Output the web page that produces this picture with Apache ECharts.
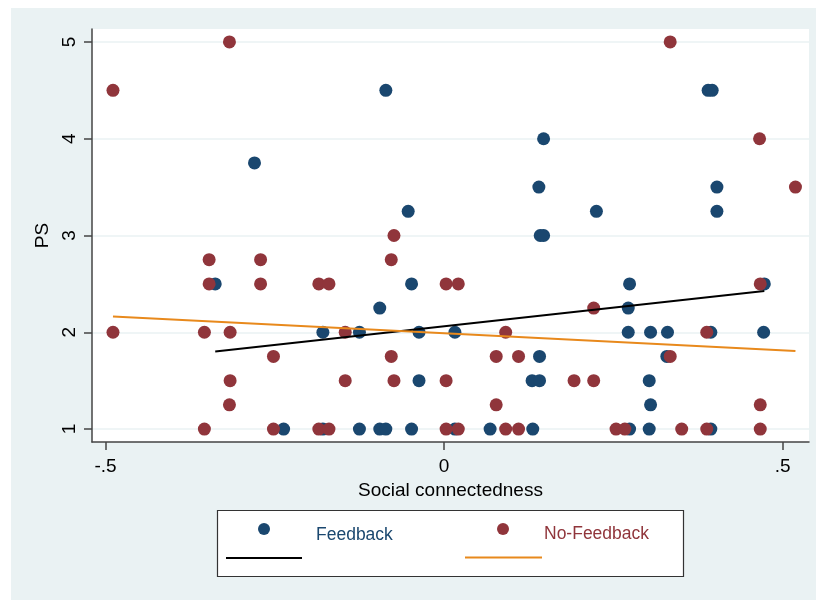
<!DOCTYPE html>
<html>
<head>
<meta charset="utf-8">
<script src="https://cdn.jsdelivr.net/npm/echarts@6/dist/echarts.min.js"></script>
<style>
  html, body { margin: 0; padding: 0; background: #fff; }
  #chart { width: 816px; height: 600px; }
</style>
</head>
<body>
<div id="chart"></div>
<script>
// Feedback group (social connectedness, PS)
const fbX = [-0.280, -0.086, 0.390, 0.396, 0.147, 0.140, 0.403, -0.053, 0.225, 0.403,
  0.142, 0.147, -0.338, -0.048, 0.274, 0.473, -0.095, 0.272,
  -0.179, -0.125, -0.037, 0.016, 0.272, 0.305, 0.330, 0.394, 0.472,
  0.141, 0.329, -0.037, 0.130, 0.141, 0.303, 0.305,
  -0.237, -0.179, -0.125, -0.095, -0.086, -0.048, 0.016, 0.068, 0.131, 0.274, 0.303, 0.394];
const fbY = [3.75, 4.5, 4.5, 4.5, 4, 3.5, 3.5, 3.25, 3.25, 3.25,
  3, 3, 2.5, 2.5, 2.5, 2.5, 2.25, 2.25,
  2, 2, 2, 2, 2, 2, 2, 2, 2,
  1.75, 1.75, 1.5, 1.5, 1.5, 1.5, 1.25,
  1, 1, 1, 1, 1, 1, 1, 1, 1, 1, 1, 1];

// No-Feedback group
const nfX = [-0.317, 0.334, -0.489, 0.466, 0.519, -0.074,
  -0.347, -0.271, -0.078,
  -0.347, -0.271, -0.185, -0.170, 0.003, 0.021, 0.467,
  0.221,
  -0.489, -0.354, -0.316, -0.146, 0.091, 0.388,
  -0.252, -0.078, 0.077, 0.110, 0.334,
  -0.316, -0.146, -0.074, 0.003, 0.192, 0.221,
  -0.317, 0.077, 0.467,
  -0.354, -0.252, -0.185, -0.170, 0.003, 0.021, 0.091, 0.110, 0.254, 0.267, 0.351, 0.388, 0.467];
const nfY = [5, 5, 4.5, 4, 3.5, 3,
  2.75, 2.75, 2.75,
  2.5, 2.5, 2.5, 2.5, 2.5, 2.5, 2.5,
  2.25,
  2, 2, 2, 2, 2, 2,
  1.75, 1.75, 1.75, 1.75, 1.75,
  1.5, 1.5, 1.5, 1.5, 1.5, 1.5,
  1.25, 1.25, 1.25,
  1, 1, 1, 1, 1, 1, 1, 1, 1, 1, 1, 1, 1];

const xTicks = [-0.5, 0, 0.5];
const yTicks = [1, 2, 3, 4, 5];

const navy = '#1a476f';
const maroon = '#90353b';
const orange = '#e8891c';

function pairs(xs, ys) {
  return xs.map((x, i) => [x, ys[i]]);
}

// linear fit over the group's x range
function lfit(xs, ys) {
  const n = xs.length;
  const mx = xs.reduce((a, b) => a + b, 0) / n;
  const my = ys.reduce((a, b) => a + b, 0) / n;
  let sxy = 0, sxx = 0;
  for (let i = 0; i < n; i++) {
    sxy += (xs[i] - mx) * (ys[i] - my);
    sxx += (xs[i] - mx) * (xs[i] - mx);
  }
  const b = sxy / sxx, a = my - b * mx;
  const lo = Math.min(...xs), hi = Math.max(...xs);
  return [[lo, a + b * lo], [hi, a + b * hi]];
}

function tickText(v) {
  if (v === 0) return '0';
  return String(v).replace('0.', '.');
}

const chart = echarts.init(document.getElementById('chart'));
const font = 'Arial, "Liberation Sans", sans-serif';

chart.setOption({
  animation: false,
  backgroundColor: '#fff',
  textStyle: { fontFamily: font },
  grid: { left: 92, right: 7, top: 29, bottom: 158, show: true, backgroundColor: '#fff', borderWidth: 0 },
  xAxis: {
    type: 'value',
    min: -0.52,
    max: 0.539,
    name: 'Social connectedness',
    nameLocation: 'middle',
    nameGap: 37,
    nameTextStyle: { fontSize: 19, color: '#000', fontFamily: font },
    axisLine: { onZero: false, lineStyle: { color: '#444', width: 1.5 } },
    axisTick: { show: true, length: 8, customValues: xTicks, lineStyle: { color: '#444', width: 1.5 } },
    axisLabel: { customValues: xTicks, formatter: tickText, fontSize: 19, color: '#000', margin: 15 },
    splitLine: { show: false }
  },
  yAxis: {
    type: 'value',
    min: 0.866,
    max: 5.134,
    name: 'PS',
    nameLocation: 'middle',
    nameGap: 34,
    nameRotate: 90,
    nameTextStyle: { fontSize: 19, color: '#000', fontFamily: font },
    axisLine: { show: true, onZero: false, lineStyle: { color: '#444', width: 1.5 } },
    axisTick: { show: true, length: 8, customValues: yTicks, lineStyle: { color: '#444', width: 1.5 } },
    axisLabel: { customValues: yTicks, rotate: 90, fontSize: 19, color: '#000', margin: 13 },
    splitLine: { show: true, lineStyle: { color: '#eaf2f3', width: 1.5 } }
  },
  graphic: [
    { type: 'rect', z: -10, silent: true, shape: { x: 11, y: 8, width: 805, height: 592 }, style: { fill: '#eaf2f3' } },
    { type: 'rect', shape: { x: 217.5, y: 510.5, width: 466, height: 66 }, style: { fill: '#fff', stroke: '#333', lineWidth: 1.2 } },
    { type: 'circle', shape: { cx: 264, cy: 529, r: 6 }, style: { fill: navy } },
    { type: 'text', left: 316, top: 526, style: { text: 'Feedback', fill: navy, font: '17.5px ' + font } },
    { type: 'line', shape: { x1: 226, y1: 558, x2: 302, y2: 558 }, style: { stroke: '#000', lineWidth: 2 } },
    { type: 'circle', shape: { cx: 503, cy: 529, r: 6 }, style: { fill: maroon } },
    { type: 'text', left: 544, top: 525, style: { text: 'No-Feedback', fill: maroon, font: '17.5px ' + font } },
    { type: 'line', shape: { x1: 465, y1: 557.5, x2: 542, y2: 557.5 }, style: { stroke: orange, lineWidth: 2 } }
  ],
  series: [
    { name: 'Feedback', type: 'scatter', symbolSize: 13, itemStyle: { color: navy, opacity: 1 }, data: pairs(fbX, fbY) },
    { name: 'No-Feedback', type: 'scatter', symbolSize: 13, itemStyle: { color: maroon, opacity: 1 }, data: pairs(nfX, nfY) },
    { name: 'Feedback fit', type: 'line', showSymbol: false, lineStyle: { color: '#000', width: 2 }, data: lfit(fbX, fbY) },
    { name: 'No-Feedback fit', type: 'line', showSymbol: false, lineStyle: { color: orange, width: 2 }, data: lfit(nfX, nfY) }
  ]
});
</script>
</body>
</html>
